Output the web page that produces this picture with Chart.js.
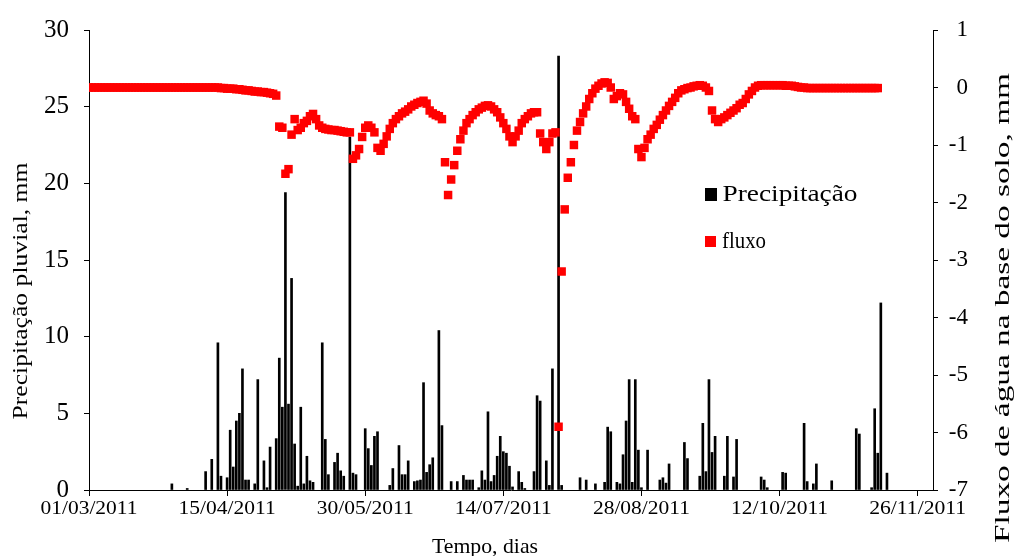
<!DOCTYPE html>
<html>
<head>
<meta charset="utf-8">
<script src="https://cdn.jsdelivr.net/npm/chart.js@4.4.1/dist/chart.umd.min.js"></script>
<style>
html, body { margin: 0; padding: 0; background: #fff; }
#wrap { width: 1014px; height: 556px; }
</style>
</head>
<body>
<div id="wrap"><canvas id="cv" width="1014" height="556"></canvas></div>
<script>
// days counted from 01/03/2011
const tickLabels = ['01/03/2011', '15/04/2011', '30/05/2011', '14/07/2011', '28/08/2011', '12/10/2011', '26/11/2011'];

const rainDay = [27, 32, 38, 40, 42, 43, 45, 46, 47, 48, 49, 50, 51, 52, 54, 55, 57, 58, 59, 61,
  62, 63, 64, 65, 66, 67, 68, 69, 70, 71, 72, 73, 76, 77, 78, 80, 81, 82, 83, 85,
  86, 87, 90, 91, 92, 93, 94, 98, 99, 101, 102, 103, 104, 106, 107, 108, 109, 110, 111, 112,
  114, 115, 118, 120, 122, 123, 124, 125, 127, 128, 129, 130, 131, 132, 133, 134, 135, 136, 137, 138,
  140, 141, 142, 145, 146, 147, 149, 150, 151, 153, 154, 160, 162, 165, 168, 169, 170, 172, 173, 174,
  175, 176, 177, 178, 179, 180, 182, 186, 187, 188, 189, 194, 195, 199, 200, 201, 202, 203, 204, 207,
  208, 210, 211, 219, 220, 221, 226, 227, 233, 234, 236, 237, 242, 250, 251, 255, 256, 257, 258, 260];

const rainMm = [0.4, 0.1, 1.2, 2.0, 9.6, 0.9, 0.8, 3.9, 1.5, 4.5, 5.0, 7.9, 0.65, 0.65, 0.4, 7.2, 1.9, 0.15, 2.8, 3.35,
  8.6, 5.4, 19.4, 5.6, 13.8, 3.0, 0.25, 5.4, 0.4, 2.2, 0.6, 0.5, 9.6, 3.3, 1.0, 1.8, 2.4, 1.25, 0.9, 23.0,
  1.1, 1.0, 4.0, 2.7, 1.6, 3.5, 3.8, 0.3, 1.4, 2.9, 1.0, 1.0, 1.9, 0.55, 0.6, 0.65, 7.0, 1.15, 1.65, 2.1,
  10.4, 4.2, 0.55, 0.55, 0.95, 0.65, 0.65, 0.65, 0.15, 1.25, 0.65, 5.1, 0.55, 0.95, 2.2, 3.5, 2.5, 2.4, 1.55, 0.2,
  1.2, 0.5, 0.1, 1.2, 6.15, 5.8, 1.9, 0.3, 7.9, 28.3, 0.3, 0.8, 0.65, 0.4, 0.5, 4.1, 3.8, 0.5, 0.4, 2.3,
  4.5, 7.2, 0.5, 7.2, 2.6, 0.15, 2.6, 0.65, 0.8, 0.45, 1.7, 3.1, 2.05, 0.9, 4.35, 1.2, 7.2, 2.45, 3.5, 0.9,
  3.5, 0.85, 3.3, 0.85, 0.65, 0.15, 1.15, 1.1, 4.35, 0.55, 0.4, 1.7, 0.6, 4.0, 3.65, 0.15, 5.3, 2.4, 12.2, 1.1];

// daily flux, day 0 .. 257
const fluxo = [
  0, 0, 0, 0, 0, 0, 0, 0, 0, 0,
  0, 0, 0, 0, 0, 0, 0, 0, 0, 0,
  0, 0, 0, 0, 0, 0, 0, 0, 0, 0,
  0, 0, 0, 0, 0, 0, 0, 0, 0, 0,
  0, 0, 0, -0.01, -0.01, -0.02, -0.02, -0.02, -0.03, -0.03,
  -0.04, -0.05, -0.05, -0.06, -0.07, -0.07, -0.08, -0.08, -0.09, -0.1,
  -0.11, -0.14, -0.68, -0.7, -1.5, -1.42, -0.82, -0.55, -0.74, -0.7,
  -0.62, -0.58, -0.5, -0.46, -0.55, -0.66, -0.7, -0.72, -0.73, -0.74,
  -0.74, -0.75, -0.76, -0.77, -0.78, -0.78, -1.24, -1.18, -1.07, -0.86,
  -0.7, -0.66, -0.7, -0.78, -1.05, -1.1, -0.98, -0.85, -0.72, -0.62,
  -0.55, -0.5, -0.45, -0.42, -0.38, -0.33, -0.3, -0.27, -0.25, -0.23,
  -0.28, -0.4, -0.45, -0.48, -0.5, -0.55, -1.3, -1.87, -1.6, -1.35,
  -1.1, -0.9, -0.75, -0.62, -0.55, -0.48, -0.43, -0.38, -0.35, -0.32,
  -0.31, -0.33, -0.38, -0.43, -0.52, -0.62, -0.72, -0.85, -0.95, -0.85,
  -0.75, -0.62, -0.55, -0.5, -0.45, -0.43, -0.43, -0.8, -0.95, -1.07,
  -0.95, -0.8, -0.78, -5.9, -3.2, -2.12, -1.57, -1.3, -1.0, -0.75,
  -0.6, -0.45, -0.33, -0.2, -0.1, -0.02, 0.03, 0.07, 0.09, 0.08,
  0, -0.2, -0.15, -0.1, -0.12, -0.25, -0.37, -0.5, -0.55, -1.07,
  -1.21, -1.05, -0.9, -0.82, -0.72, -0.65, -0.56, -0.48, -0.4, -0.32,
  -0.25, -0.18, -0.1, -0.05, -0.03, -0.01, 0, 0.02, 0.03, 0.04,
  0.03, 0, -0.06, -0.4, -0.55, -0.6, -0.55, -0.52, -0.48, -0.44,
  -0.4, -0.36, -0.3, -0.27, -0.2, -0.12, -0.06, 0, 0.03, 0.04,
  0.04, 0.04, 0.04, 0.04, 0.04, 0.04, 0.04, 0.03, 0.03, 0.03,
  0.02, 0.01, 0, 0, -0.01, -0.01, -0.01, -0.01, -0.01, -0.01,
  -0.01, -0.01, -0.01, -0.01, -0.01, -0.01, -0.01, -0.01, -0.01, -0.01,
  -0.01, -0.01, -0.01, -0.01, -0.01, -0.01, -0.01, -0.01
];

const FONT = '"Liberation Serif", "Times New Roman", serif';
const RED = '#ff0000';

// draws a text stretched to a given length
function fitText(ctx, txt, cx, cy, rot, size, len) {
  ctx.save();
  ctx.translate(cx, cy);
  ctx.rotate(rot);
  ctx.font = size + 'px ' + FONT;
  ctx.textAlign = 'center';
  ctx.textBaseline = 'middle';
  let w = ctx.measureText(txt).width;
  ctx.scale(len / w, 1);
  ctx.fillText(txt, 0, 0);
  ctx.restore();
}

const decor = {
  id: 'decor',
  afterDraw(c) {
    let ctx = c.ctx, xs = c.scales.x, y2 = c.scales.y2;
    ctx.save();
    ctx.fillStyle = '#000';
    xs.ticks.forEach(t => {
      let lb = tickLabels[Math.round(t.value / 45)];
      if (lb) fitText(ctx, lb, xs.getPixelForValue(t.value), 509, 0, 19, 97);
    });
    // right axis labels, right aligned like the original
    ctx.font = '23px ' + FONT;
    ctx.textAlign = 'right';
    ctx.textBaseline = 'middle';
    y2.ticks.forEach(t => {
      ctx.fillText(String(t.value), 968, y2.getPixelForValue(t.value));
    });
    fitText(ctx, 'Tempo, dias', 485, 547, 0, 21, 106);
    fitText(ctx, 'Precipitação pluvial, mm', 21, 291, -Math.PI / 2, 22, 257);
    fitText(ctx, 'Fluxo de água na base do solo, mm', 1003, 308, -Math.PI / 2, 22, 470);

    // legend
    ctx.fillStyle = '#000';
    ctx.fillRect(705, 188, 12, 13);
    fitText(ctx, 'Precipitação', 790, 195, 0, 24, 135);
    ctx.fillStyle = RED;
    ctx.fillRect(705, 236, 11, 11);
    ctx.fillStyle = '#000';
    fitText(ctx, 'fluxo', 744, 242, 0, 24, 44);
    ctx.restore();
  }
};

const rainPts = rainDay.map((d, i) => ({ x: d, y: rainMm[i] }));
const fluxPts = fluxo.map((v, i) => ({ x: i, y: v }));

new Chart(document.getElementById('cv'), {
  type: 'bar',
  data: {
    datasets: [
      {
        type: 'scatter',
        label: 'fluxo',
        data: fluxPts,
        yAxisID: 'y2',
        order: 0,
        pointStyle: 'rect',
        pointRadius: 6,
        backgroundColor: RED,
        borderColor: RED,
        borderWidth: 0,
        showLine: false
      },
      {
        label: 'Precipitação',
        data: rainPts,
        yAxisID: 'y',
        order: 1,
        backgroundColor: '#000',
        barThickness: 2
      }
    ]
  },
  options: {
    responsive: false,
    animation: false,
    layout: { padding: { top: 27, left: 0, right: 0, bottom: 0 } },
    plugins: { legend: { display: false }, tooltip: { enabled: false } },
    scales: {
      x: {
        type: 'linear',
        min: 0,
        max: 275,
        offset: false,
        afterFit: s => { s.height = 66; },
        ticks: { stepSize: 45, includeBounds: false, display: false },
        grid: { offset: false, drawOnChartArea: false, drawTicks: true, tickLength: 6, color: '#000' },
        border: { display: true, color: '#000', width: 1 }
      },
      y: {
        position: 'left',
        min: 0,
        max: 30,
        afterFit: s => { s.width = 89; },
        ticks: { stepSize: 5, color: '#000', padding: 15, font: { family: FONT, size: 25 } },
        grid: { drawOnChartArea: false, drawTicks: true, tickLength: 5, color: '#000' },
        border: { display: true, color: '#000', width: 1 }
      },
      y2: {
        position: 'right',
        min: -7,
        max: 1,
        afterFit: s => { s.width = 81; },
        ticks: { stepSize: 1, display: false },
        grid: { drawOnChartArea: false, drawTicks: true, tickLength: 5, color: '#000' },
        border: { display: true, color: '#000', width: 1 }
      }
    }
  },
  plugins: [decor]
});
</script>
</body>
</html>
